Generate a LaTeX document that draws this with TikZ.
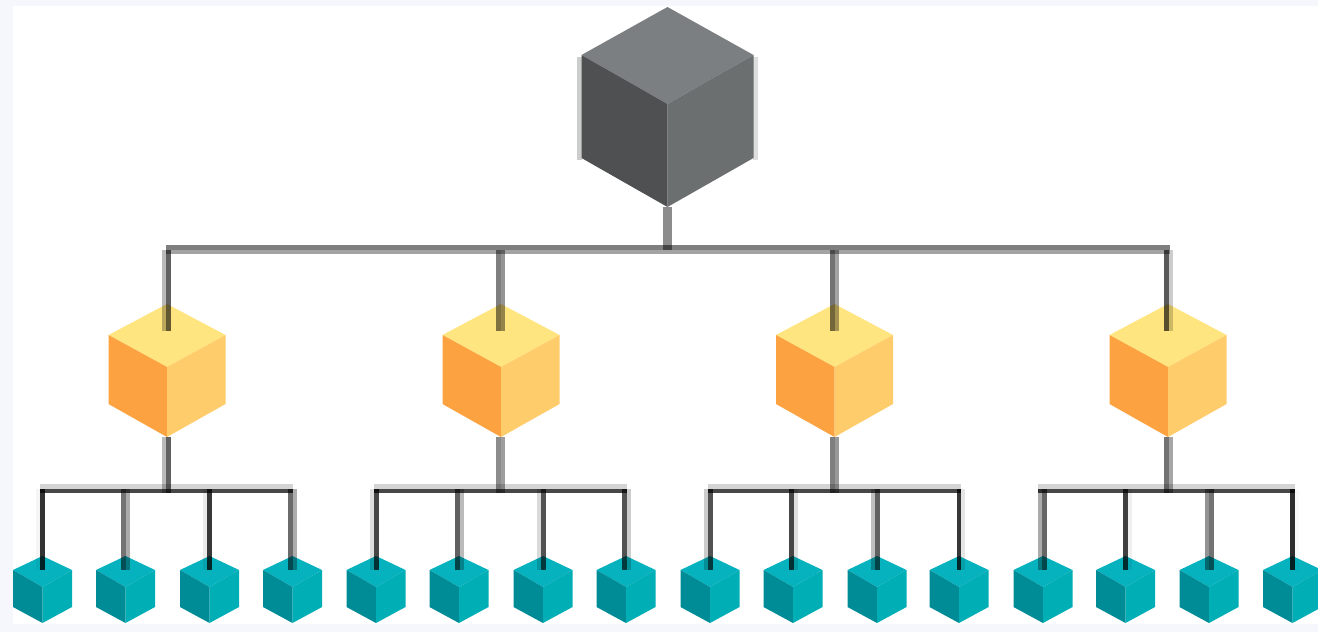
\documentclass[tikz,border=0pt]{standalone}
\definecolor{pagebg}{HTML}{F5F7FC}
\definecolor{roottop}{HTML}{7C7F81}
\definecolor{rootleft}{HTML}{4F5052}
\definecolor{rootright}{HTML}{6C6F6F}
\definecolor{midtop}{HTML}{FFE57F}
\definecolor{midleft}{HTML}{FCA241}
\definecolor{midright}{HTML}{FFCC6B}
\definecolor{leaftop}{HTML}{06B2BE}
\definecolor{leafleft}{HTML}{008C96}
\definecolor{leafright}{HTML}{00AEB6}
\tikzset{
  x=1pt,y=-1pt,
  wire/.style={line cap=butt,line join=miter,draw=black},
  hbar/.style={wire,draw opacity=.50,line width=4.6pt},
  hbarb/.style={wire,draw opacity=.36,line width=4.4pt},
  gbar/.style={wire,draw opacity=.17,line width=5pt},
  gbarb/.style={wire,draw opacity=.72,line width=4.4pt},
}
% \cube{name}{cx}{apex y}{half width}{side y}{centre y}{lower side y}{bottom y}{palette}
\newcommand{\cube}[9]{%
  \coordinate (#1-a) at (#2,#3);
  \coordinate (#1-l) at (#2-#4,#5);
  \coordinate (#1-r) at (#2+#4,#5);
  \coordinate (#1-c) at (#2,#6);
  \coordinate (#1-ll) at (#2-#4,#7);
  \coordinate (#1-lr) at (#2+#4,#7);
  \coordinate (#1-b) at (#2,#8);
  \fill[#9top] (#1-a) -- (#1-r) -- (#1-c) -- (#1-l) -- cycle;
  \fill[#9left] (#1-l) -- (#1-c) -- (#1-b) -- (#1-ll) -- cycle;
  \fill[#9right] (#1-r) -- (#1-c) -- (#1-b) -- (#1-lr) -- cycle;
}
\newcommand{\midcube}[2]{\cube{#1}{#2}{304}{58.5}{335}{367}{404}{437}{mid}}
\newcommand{\leafcube}[2]{\cube{#1}{#2}{556}{29.5}{570}{587}{607}{623}{leaf}}
% one strip of a connector: x, opacity, from, to
\newcommand{\wirestrip}[4]{\draw[wire,line width=4.5pt,draw opacity=#2] (#1,0 |- #3) -- (#1,0 |- #4);}
% \leafdrop{leaf}{x1}{op1}{x2}{op2}
\newcommand{\leafdrop}[5]{%
  \coordinate (#1-t) at (0,489);
  \coordinate (#1-e) at (0,570);
  \wirestrip{#2}{#3}{#1-t}{#1-e}\wirestrip{#4}{#5}{#1-t}{#1-e}}
% \middrop{mid}{x1}{op1}{x2}{op2}
\newcommand{\middrop}[5]{%
  \coordinate (#1-ut) at (0,250);
  \coordinate (#1-ue) at (0,330.5);
  \coordinate (#1-lt) at (0,437);
  \coordinate (#1-le) at (0,493);
  \wirestrip{#2}{#3}{#1-ut}{#1-ue}\wirestrip{#4}{#5}{#1-ut}{#1-ue}}
\newcommand{\midout}[5]{\wirestrip{#2}{#3}{#1-lt}{#1-le}\wirestrip{#4}{#5}{#1-lt}{#1-le}}
\begin{document}
\begin{tikzpicture}
\useasboundingbox (0,0) rectangle (1318,632);
\fill[pagebg] (0,0) rectangle (1318,632);
\fill[white] (13,6) rectangle (1318,624);
% root halo
\fill[black,opacity=.2] (577,57) rectangle (582,160);
\fill[black,opacity=.13] (753,57) rectangle (758,160);
% cubes
\cube{root}{667.5}{7}{86}{55}{104}{158}{207}{root}
\midcube{m1}{167}\midcube{m2}{501}\midcube{m3}{834.5}\midcube{m4}{1168}
\foreach \n/\x in {a1/42.5,a2/125.5,a3/209.5,a4/292.5,b1/376,b2/459,b3/543,b4/626,
  c1/710,c2/793,c3/877,c4/959,d1/1043,d2/1125.5,d3/1209,d4/1292.5}{\leafcube{\n}{\x}}
% main bus
\coordinate (busT) at (root-b |- 0,250);
\coordinate (busL) at (166,247.5);
\coordinate (busR) at (1170,247.5);
\coordinate (busLb) at (166,252);
\coordinate (busRb) at (1170,252);
\draw[hbar] (busL) -- (busR);
\draw[hbarb] (busLb) -- (busRb);
\draw[wire,draw opacity=.45,line width=8.5pt] (root-b) -- (busT);
% drops to the middle cubes
\middrop{m1}{164}{.27}{168.5}{.62}
\middrop{m2}{498.5}{.5}{503}{.42}
\middrop{m3}{832.5}{.55}{837}{.36}
\middrop{m4}{1166.5}{.65}{1171}{.2}
% group buses
\foreach \p/\ga/\gb in {a/40/293,b/374/627,c/708/961,d/1038/1295}{
  \coordinate (\p-gl) at (\ga,486.5);
  \coordinate (\p-gr) at (\gb,486.5);
  \coordinate (\p-dl) at (\ga,491);
  \coordinate (\p-dr) at (\gb,491);
  \draw[gbar] (\p-gl) -- (\p-gr);
  \draw[gbarb] (\p-dl) -- (\p-dr);
}
\midout{m1}{164}{.27}{168.5}{.62}
\midout{m2}{498.5}{.45}{503}{.38}
\midout{m3}{832.5}{.5}{837}{.4}
\midout{m4}{1166.5}{.55}{1171}{.35}
% drops to the leaves
\leafdrop{a1}{42.5}{.8}{38}{.04}
\leafdrop{a2}{123.5}{.55}{128}{.33}
\leafdrop{a3}{209.5}{.78}{205}{.08}
\leafdrop{a4}{290.5}{.58}{295}{.32}
\leafdrop{b1}{376.5}{.72}{372}{.13}
\leafdrop{b2}{457.5}{.62}{462}{.27}
\leafdrop{b3}{543.5}{.68}{539}{.15}
\leafdrop{b4}{624.5}{.68}{629}{.2}
\leafdrop{c1}{710.5}{.68}{706}{.2}
\leafdrop{c2}{791.5}{.72}{796}{.12}
\leafdrop{c3}{877.5}{.62}{873}{.25}
\leafdrop{c4}{959}{.78}{963}{.1}
\leafdrop{d1}{1044.5}{.6}{1040}{.33}
\leafdrop{d2}{1125.5}{.75}{1130}{.06}
\leafdrop{d3}{1211.5}{.55}{1207}{.42}
\leafdrop{d4}{1292.5}{.82}{1297}{.02}
\end{tikzpicture}
\end{document}
